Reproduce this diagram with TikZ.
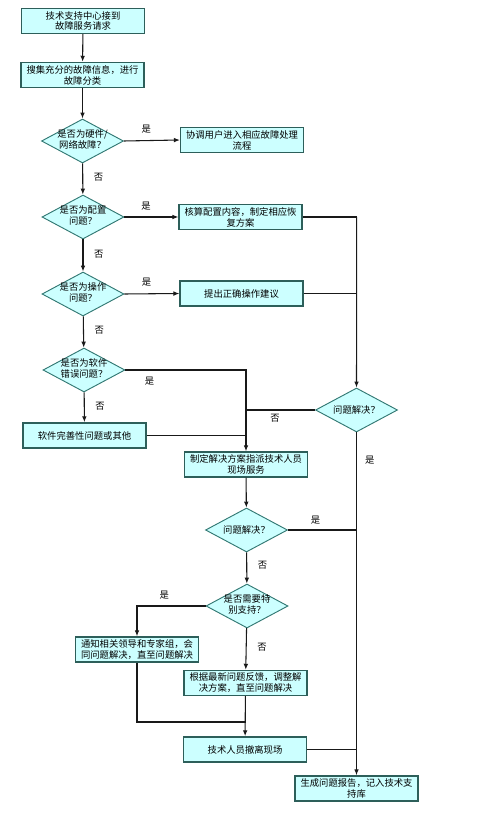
\documentclass[tikz,border=0pt]{standalone}
\usepackage{fontspec}
\newfontfamily\cjk{Noto Sans CJK SC}
\usetikzlibrary{shapes.geometric,arrows.meta}
\definecolor{boxfill}{RGB}{204,255,255}
\definecolor{boxline}{RGB}{45,95,90}
\definecolor{dialine}{RGB}{50,120,115}
\definecolor{conn}{RGB}{25,25,25}
\newcommand{\dlbl}[2]{\makebox[0pt]{\begin{tabular}{@{}c@{}}#1\\#2\end{tabular}}}
\begin{document}
\begin{tikzpicture}[x=0.75pt,y=-0.75pt,
  every node/.style={font=\cjk\fontsize{7}{8.2}\selectfont},
  procbox/.style={draw=boxline,line width=1.1pt,fill=boxfill,minimum width=92pt,minimum height=18.75pt,inner sep=0pt,align=center},
  decis/.style={shape=diamond,draw=dialine,line width=0.7pt,fill=boxfill,minimum width=61.5pt,minimum height=33pt,inner sep=0pt},
  flow/.style={draw=conn,line width=0.8pt,-{Latex[length=4.5pt,width=3.5pt]}},
  link/.style={draw=conn,line width=0.8pt},
  lbl/.style={inner sep=0pt}]
\useasboundingbox (0,0) rectangle (489,816);

\node[procbox] (b1) at (83,21) {技术支持中心接到\\故障服务请求};
\node[procbox] (b2) at (82.5,75) {搜集充分的故障信息，进行\\故障分类};
\node[decis] (d1) at (82.5,141) {\dlbl{是否为硬件/}{网络故障？}};
\node[procbox] (b3) at (242,140) {协调用户进入相应故障处理\\流程};
\node[decis] (d2) at (83,217) {\dlbl{是否为配置}{问题？}};
\node[procbox] (b4) at (240.5,217) {核算配置内容，制定相应恢\\复方案};
\node[decis] (d3) at (83,294) {\dlbl{是否为操作}{问题？}};
\node[procbox] (b5) at (241.5,293.5) {提出正确操作建议};
\node[decis] (d4) at (84,370) {\dlbl{是否为软件}{错误问题？}};
\node[procbox] (b6) at (84.5,435.5) {软件完善性问题或其他};
\node[decis] (d5) at (356.5,410) {\makebox[0pt]{问题解决？}};
\node[procbox] (b7) at (246,464.5) {制定解决方案指派技术人员\\现场服务};
\node[decis] (d6) at (246.5,530) {\makebox[0pt]{问题解决？}};
\node[decis] (d7) at (247,606) {\dlbl{是否需要特}{别支持？}};
\node[procbox] (b8) at (137,649.5) {通知相关领导和专家组，会\\同问题解决，直至问题解决};
\node[procbox] (b9) at (245.5,683) {根据最新问题反馈，调整解\\决方案，直至问题解决};
\node[procbox] (b10) at (245,749.5) {技术人员撤离现场};
\node[procbox] (b11) at (356.5,788.5) {生成问题报告，记入技术支\\持库};

\coordinate (jr) at (356.7,217);
\coordinate (jm) at (246,410);
\coordinate (jl) at (137,722);

% main column
\draw[flow] (b1) -- (b2);
\draw[flow] (b2) -- (d1);
\draw[flow] (d1) -- (d2) node[lbl,pos=0.45,right=8pt] {否};
\draw[flow] (d2) -- (d3) node[lbl,pos=0.45,right=8pt] {否};
\draw[flow] (d3) -- (d4) node[lbl,pos=0.45,right=8pt] {否};
\draw[flow] (d4) -- (b6) node[lbl,pos=0.45,right=8pt] {否};

% yes branches
\draw[flow] (d1.east) -- (b3.west) node[lbl,pos=0.4,above=5pt] {是};
\draw[flow] (d2.east) -- (b4.west) node[lbl,pos=0.4,above=5pt] {是};
\draw[flow] (d3.east) -- (b5.west) node[lbl,pos=0.4,above=5pt] {是};
\draw[flow] (d4.east) -- (jm |- d4.east) node[lbl,pos=0.2,below=5pt] {是} -- (b7.north);

% right column
\draw[link] (b4.east) -- (jr);
\draw[link] (b5.east) -- (jr |- b5.east);
\draw[flow] (jr) -- (d5.north);
\draw[link] (d5.west) -- (jm) node[lbl,pos=0.58,below=3pt] {否};
\draw[link] (b6.east) -- (jm |- b6.east);
\draw[flow] (d5.south) -- (b11.north) node[lbl,pos=0.08,right=6pt] {是};

% lower part
\draw[flow] (b7) -- (d6);
\draw[link] (d6.east) -- (jr |- d6.east) node[lbl,pos=0.4,above=4pt] {是};
\draw[flow] (d6) -- (d7) node[lbl,pos=0.4,right=8pt] {否};
\draw[flow] (d7.west) -| (b8.north) node[lbl,pos=0.3,above=5pt] {是};
\draw[flow] (d7) -- (b9) node[lbl,pos=0.45,right=8pt] {否};
\draw[link] (b8.south) -- (jl) -- (jl -| b9.south);
\draw[flow] (b9) -- (b10);
\draw[link] (b10.east) -- (jr |- b10.east);
\end{tikzpicture}
\end{document}
